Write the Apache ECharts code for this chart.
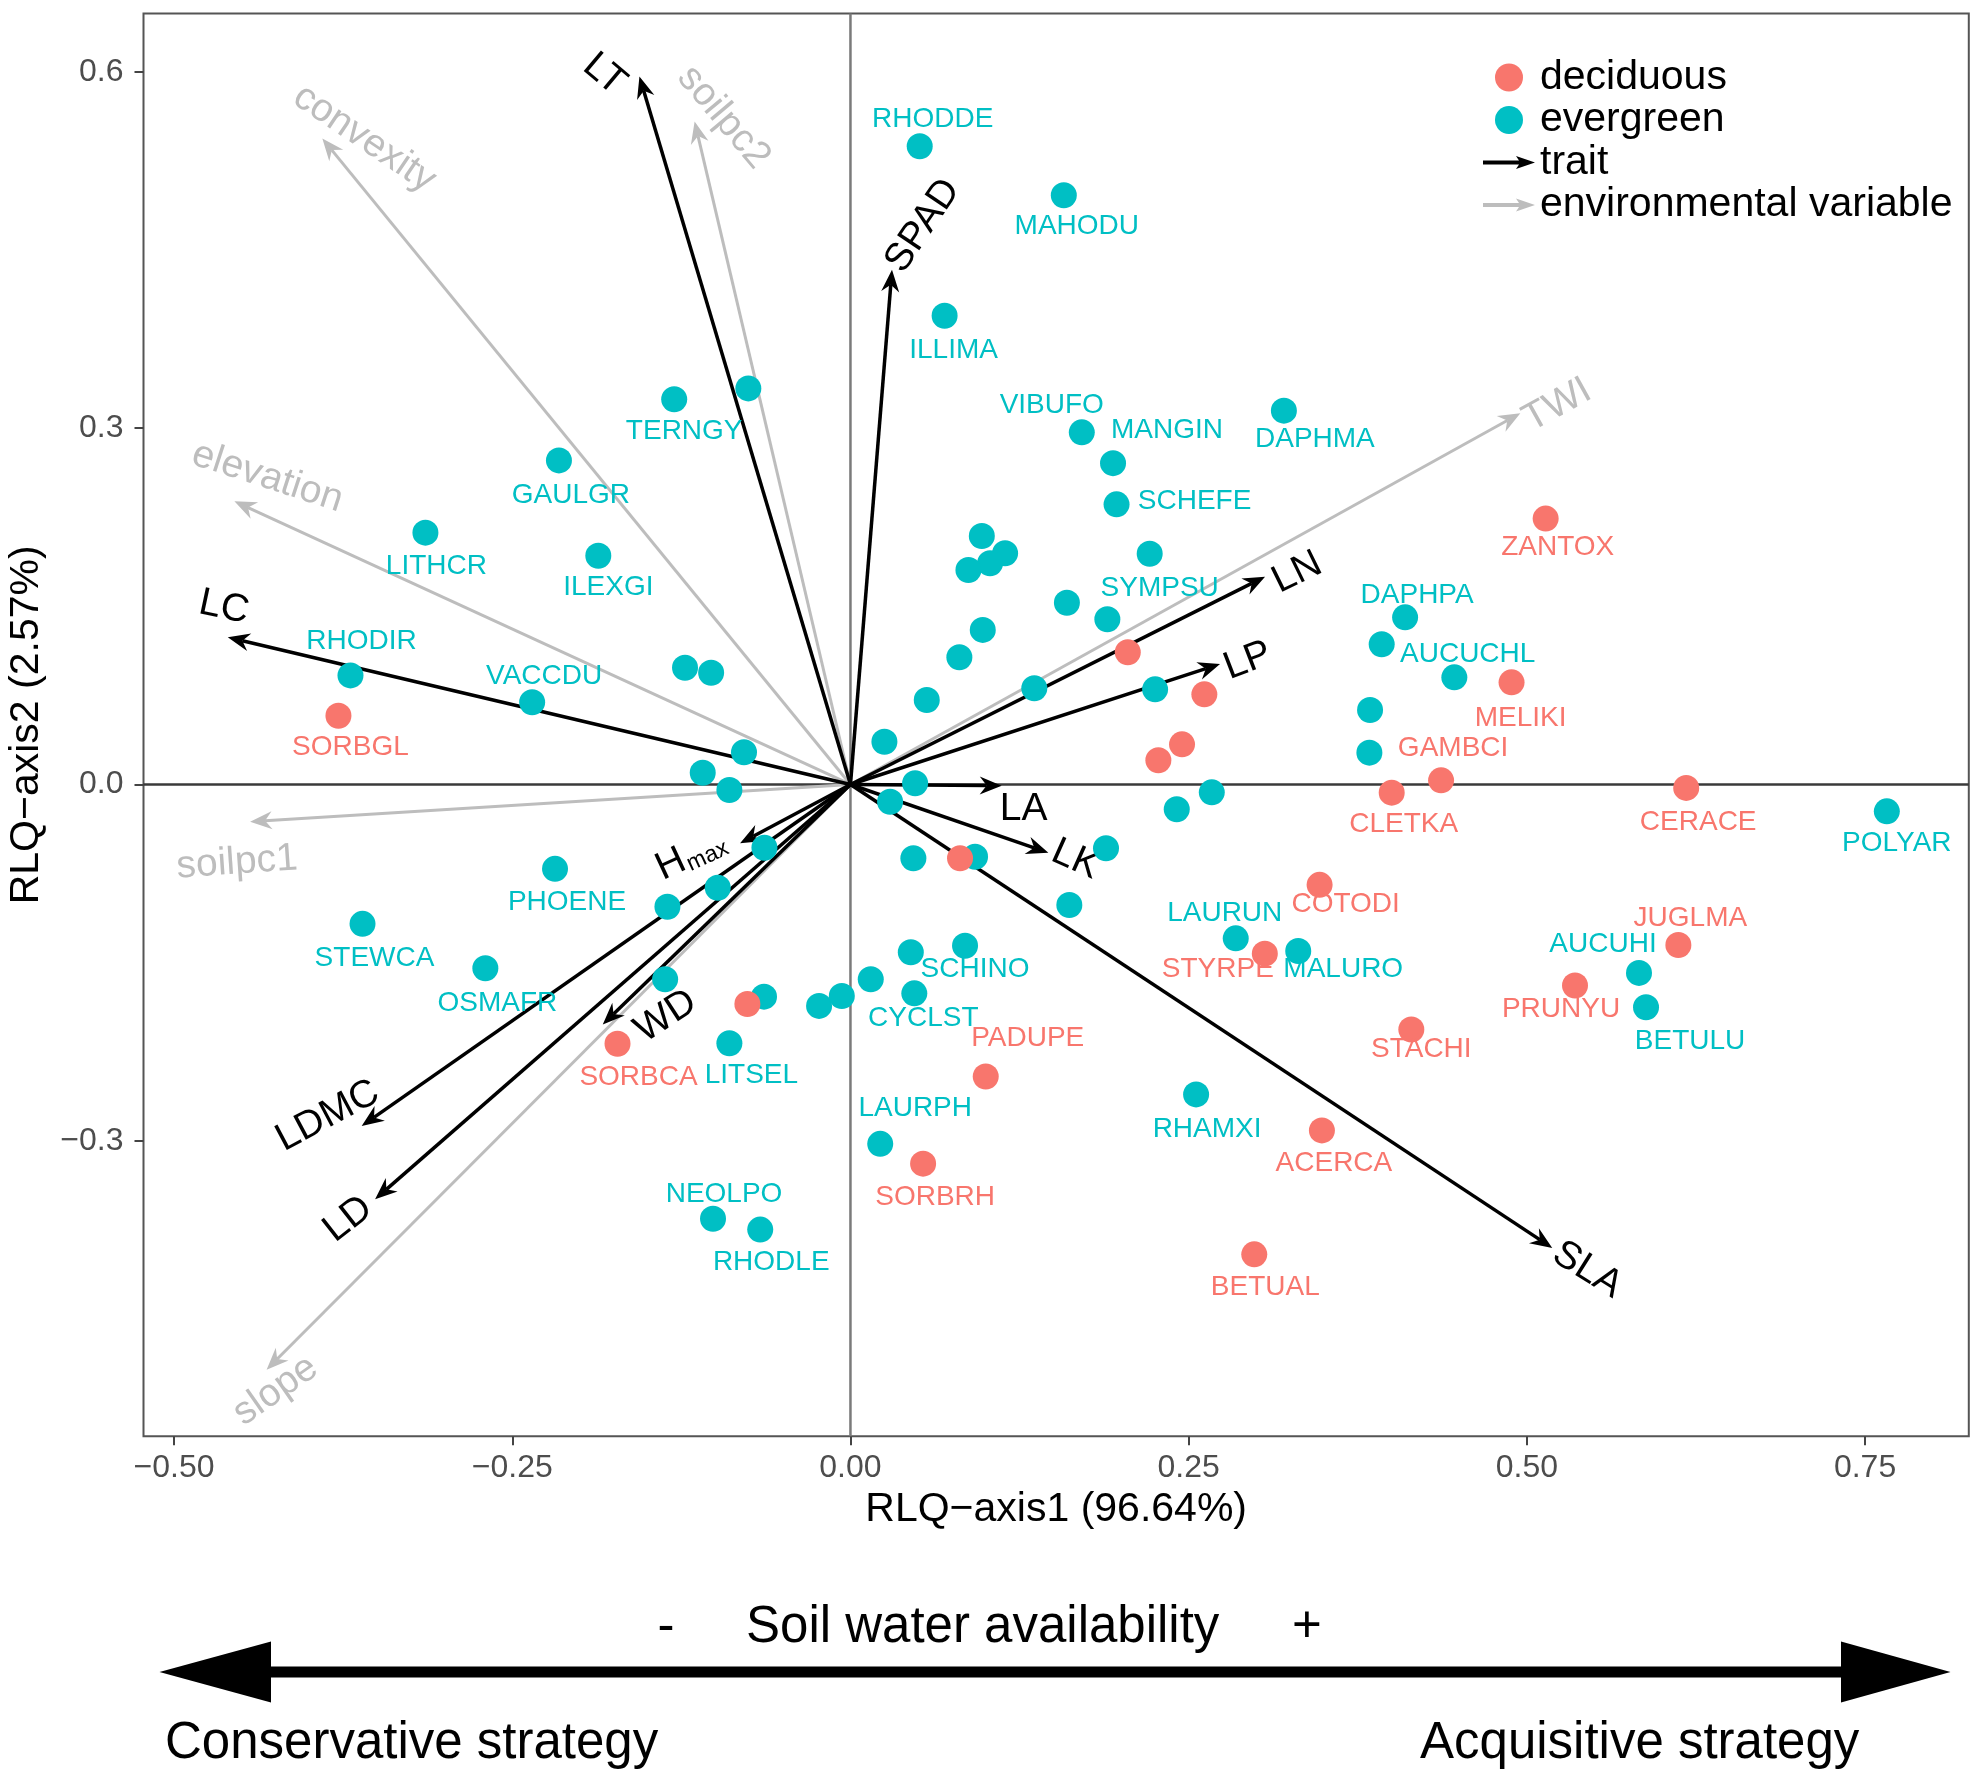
<!DOCTYPE html>
<html>
<head>
<meta charset="utf-8">
<script src="https://cdn.jsdelivr.net/npm/echarts@6/dist/echarts.min.js"></script>
<style>html,body{margin:0;padding:0;background:#fff}#chart{width:1984px;height:1782px}</style>
</head>
<body>
<div id="chart"></div>
<script>
// ---------------- DATA ----------------
const xTickValues = [-0.5, -0.25, 0, 0.25, 0.5, 0.75];
const yTickValues = [-0.3, 0, 0.3, 0.6];

const decidNames = ['SORBGL','ZANTOX','MELIKI','GAMBCI','CLETKA','CERACE','JUGLMA','PRUNYU','STACHI','COTODI','STYRPE','ACERCA','BETUAL','PADUPE','SORBRH','SORBCA','','','','','',''];
const decidX = [-0.3785,0.5139,0.4887,0.4366,0.4001,0.6178,0.6120,0.5356,0.4146,0.3468,0.3063,0.3485,0.2985,0.1000,0.0537,-0.1722,0.2050,0.2616,0.2451,0.2276,0.0810,-0.0762];
const decidY = [0.0579,0.2238,0.0860,0.0035,-0.0069,-0.0029,-0.1351,-0.1692,-0.2062,-0.0845,-0.1424,-0.2912,-0.3955,-0.2458,-0.3192,-0.2182,0.1113,0.0759,0.0338,0.0204,-0.0621,-0.1848];

const everNames = ['RHODDE','MAHODU','ILLIMA','VIBUFO','MANGIN','SCHEFE','DAPHMA','SYMPSU','TERNGY','GAULGR','LITHCR','ILEXGI','RHODIR','VACCDU','PHOENE','STEWCA','OSMAFR','LITSEL','NEOLPO','RHODLE','LAURPH','CYCLST','SCHINO','LAURUN','MALURO','RHAMXI','DAPHPA','AUCUCHL','POLYAR','AUCUHI','BETULU',
  '','','','','','','','','','','','','','','','','','','','','','','','','','','','','','','','','','','','','',''];
const everX = [0.0512,0.1577,0.0696,0.1710,0.1941,0.1967,0.3204,0.2212,-0.1303,-0.2155,-0.3142,-0.1864,-0.3696,-0.2353,-0.2184,-0.3607,-0.2699,-0.0895,-0.1016,-0.0667,0.0220,0.0472,0.0847,0.2848,0.3310,0.2555,0.4100,0.3927,0.7661,0.5829,0.5881,
  -0.0755,0.0971,0.1143,0.1032,0.0872,0.1600,0.1899,0.0978,0.0805,0.0564,0.1359,0.2252,0.0251,0.0478,0.0293,-0.1223,-0.1030,-0.0787,-0.1092,-0.0895,-0.0636,-0.0981,-0.1353,0.0465,0.0921,0.2671,0.2412,0.1889,0.1618,-0.1370,-0.0639,-0.0232,-0.0064,0.0150,0.0446,0.4464,0.3841,0.3836];
const everY = [0.5373,0.4960,0.3946,0.2964,0.2705,0.2358,0.3147,0.1942,0.3243,0.2728,0.2120,0.1926,0.0918,0.0692,-0.0710,-0.1173,-0.1547,-0.2178,-0.3655,-0.3747,-0.3025,-0.1758,-0.1357,-0.1295,-0.1402,-0.2609,0.1407,0.1180,-0.0226,-0.1586,-0.1875,
  0.3334,0.2092,0.1946,0.1862,0.1806,0.1530,0.1391,0.1301,0.1071,0.0711,0.0810,0.0801,0.0360,0.0010,-0.0145,0.0983,0.0941,0.0271,0.0099,-0.0046,-0.0532,-0.0869,-0.1029,-0.0621,-0.0608,-0.0066,-0.0209,-0.0537,-0.1014,-0.1640,-0.1786,-0.1864,-0.1780,-0.1640,-0.1412,0.0902,0.0627,0.0268];

const traitNames = ['LT','SPAD','LC','LN','LP','LA','LK','SLA','Hmax','WD','LDMC','LD'];
const traitX = [-0.1560,0.0307,-0.4603,0.3065,0.2732,0.1118,0.1463,0.5188,-0.0816,-0.1831,-0.3613,-0.3514];
const traitY = [0.5960,0.4333,0.1239,0.1749,0.1014,-0.0010,-0.0574,-0.3901,-0.0495,-0.2020,-0.2875,-0.3491];

const envNames = ['convexity','soilpc2','elevation','soilpc1','slope','TWI'];
const envX = [-0.3904,-0.1152,-0.4554,-0.4438,-0.4316,0.4952];
const envY = [0.5438,0.5581,0.2384,-0.0313,-0.4926,0.3125];

// ---------------- STYLE ----------------
const FONT = '"Liberation Sans", Arial, Helvetica, sans-serif';
const DEC_COLOR = '#F8766D', EVE_COLOR = '#00BFC4', ENV_COLOR = '#BDBDBD';
const X_MIN = -0.5226, X_MAX = 0.8267, Y_MIN = -0.5486, Y_MAX = 0.6490;

// label offsets in pixels (label centre relative to point)
const ptLabelOffset = {
  RHODDE:[13,-27], MAHODU:[13,31], ILLIMA:[9,35], TERNGY:[10,32], GAULGR:[12,35], LITHCR:[11,34], ILEXGI:[10,32],
  RHODIR:[11,-34], VACCDU:[12,-26], SORBGL:[12,32], VIBUFO:[-30,-27], MANGIN:[54,-33], SCHEFE:[78,-3], DAPHMA:[31,29],
  SYMPSU:[10,34], ZANTOX:[12,29], DAPHPA:[12,-22], AUCUCHL:[86,10], MELIKI:[9,36], GAMBCI:[12,-32], CLETKA:[12,32],
  CERACE:[12,34], POLYAR:[10,32], JUGLMA:[12,-27], AUCUHI:[-36,-29], PRUNYU:[-14,24], BETULU:[44,34], STACHI:[10,20],
  COTODI:[26,19], LAURUN:[-11,-25], STYRPE:[-47,16], MALURO:[45,18], RHAMXI:[11,35], ACERCA:[12,33], BETUAL:[11,33],
  PADUPE:[42,-38], SORBRH:[12,34], LAURPH:[35,-36], NEOLPO:[11,-24], RHODLE:[11,33], LITSEL:[22,32], SORBCA:[21,34],
  SCHINO:[10,24], CYCLST:[9,25], PHOENE:[12,33], STEWCA:[12,34], OSMAFR:[12,35]
};
const traitLabelStyle = {
  LT:{dx:-35,dy:-2,rot:-40}, SPAD:{dx:31,dy:-44,rot:56}, LC:{dx:-4,dy:-30,rot:-12}, LN:{dx:32,dy:-4,rot:26},
  LP:{dx:28,dy:-3,rot:21}, LA:{dx:22,dy:24,rot:0}, LK:{dx:27,dy:7,rot:-24}, SLA:{dx:35,dy:22,rot:-32},
  Hmax:{dx:-49,dy:12,rot:25}, WD:{dx:63,dy:-8,rot:33}, LDMC:{dx:-34,dy:-10,rot:28}, LD:{dx:-27,dy:20,rot:38}
};
const envLabelStyle = {
  convexity:{dx:42,dy:0,rot:-34}, soilpc2:{dx:29,dy:-4,rot:-50}, elevation:{dx:33,dy:-24,rot:-18},
  soilpc1:{dx:-13,dy:41,rot:4}, slope:{dx:9,dy:21,rot:35}, TWI:{dx:37,dy:-8,rot:29}
};

function fmtTick(v, d) {
  const s = Math.abs(v).toFixed(d);
  return (v < -1e-9 ? '\u2212' : '') + s;
}

function renderArrow(params, api, names, color, labStyle, withZeroLines, lw) {
  const name = names[params.dataIndex];
  const o = api.coord([0, 0]);
  const t = api.coord([api.value(0), api.value(1)]);
  const dx = t[0] - o[0], dy = t[1] - o[1];
  const len = Math.sqrt(dx * dx + dy * dy);
  const ux = dx / len, uy = dy / len, nx = -uy, ny = ux;
  const HL = 22, HW = 9, NOTCH = 15;
  const bx = t[0] - ux * HL, by = t[1] - uy * HL;
  const children = [];
  if (withZeroLines && params.dataIndex === 0) {
    const h0 = api.coord([X_MIN, 0]), h1 = api.coord([X_MAX, 0]);
    const v0 = api.coord([0, Y_MIN]), v1 = api.coord([0, Y_MAX]);
    children.push({type:'line', shape:{x1:v0[0], y1:v0[1], x2:v1[0], y2:v1[1]}, style:{stroke:'#7a7a7a', lineWidth:2.5}});
    children.push({type:'line', shape:{x1:h0[0], y1:h0[1], x2:h1[0], y2:h1[1]}, style:{stroke:'#3a3a3a', lineWidth:2.5}});
  }
  children.push({type:'line', shape:{x1:o[0], y1:o[1], x2:t[0]-ux*NOTCH, y2:t[1]-uy*NOTCH}, style:{stroke:color, lineWidth:lw}});
  children.push({type:'polygon', shape:{points:[[t[0],t[1]],[bx+nx*HW,by+ny*HW],[t[0]-ux*NOTCH,t[1]-uy*NOTCH],[bx-nx*HW,by-ny*HW]]}, style:{fill:color}});
  const s = labStyle[name];
  const rot = s.rot * Math.PI / 180;
  if (name === 'Hmax') {
    children.push({type:'group', x:t[0]+s.dx, y:t[1]+s.dy, rotation:rot, children:[
      {type:'text', x:-8, y:0, style:{text:'H', font:'39px ' + FONT, fill:color, align:'right', verticalAlign:'middle', textAlign:'right', textVerticalAlign:'middle'}},
      {type:'text', x:-7, y:8, style:{text:'max', font:'23px ' + FONT, fill:color, align:'left', verticalAlign:'middle', textAlign:'left', textVerticalAlign:'middle'}}
    ]});
  } else {
    children.push({type:'text', x:t[0]+s.dx, y:t[1]+s.dy, rotation:rot,
      style:{text:name, font:'39px ' + FONT, fill:color, align:'center', verticalAlign:'middle', textAlign:'center', textVerticalAlign:'middle'}});
  }
  return {type:'group', children};
}

function pointData(names, xs, ys) {
  return names.map((n, i) => ({
    name: n,
    value: [xs[i], ys[i]],
    label: {offset: ptLabelOffset[n] || [0, 0]}
  }));
}

const chart = echarts.init(document.getElementById('chart'), null, {renderer:'canvas'});
const option = {
  animation: false,
  backgroundColor: '#ffffff',
  grid: {left:143.5, top:13.5, width:1825.3, height:1422.7, show:true, borderColor:'#555', borderWidth:2,
         backgroundColor:'transparent', containLabel:false, outerBoundsMode:'none'},
  xAxis: {
    type:'value', min:X_MIN, max:X_MAX, position:'bottom',
    axisLine:{show:false, onZero:false},
    axisTick:{show:true, inside:false, length:9, lineStyle:{color:'#444', width:2}, customValues:xTickValues},
    axisLabel:{show:true, customValues:xTickValues, formatter:(v)=>fmtTick(v,2), fontSize:32, fontFamily:FONT, color:'#4D4D4D', margin:16},
    splitLine:{show:false},
    name:'RLQ\u2212axis1 (96.64%)', nameLocation:'middle', nameGap:53,
    nameTextStyle:{fontSize:41, fontFamily:FONT, color:'#000'}
  },
  yAxis: {
    type:'value', min:Y_MIN, max:Y_MAX, position:'left',
    axisLine:{show:false, onZero:false},
    axisTick:{show:true, inside:false, length:9, lineStyle:{color:'#444', width:2}, customValues:yTickValues},
    axisLabel:{show:true, customValues:yTickValues, formatter:(v)=>fmtTick(v,1), fontSize:32, fontFamily:FONT, color:'#4D4D4D', margin:20},
    splitLine:{show:false},
    name:'RLQ\u2212axis2 (2.57%)', nameLocation:'middle', nameGap:96, nameRotate:90,
    nameTextStyle:{fontSize:41, fontFamily:FONT, color:'#000'}
  },
  legend: {
    orient:'vertical', left:1483, top:57, padding:0, itemWidth:52, itemHeight:28, itemGap:1.5,
    selectedMode:false,
    textStyle:{fontSize:41, fontFamily:FONT, color:'#000', lineHeight:41},
    data:[
      {name:'deciduous', icon:'circle', itemStyle:{color:DEC_COLOR}},
      {name:'evergreen', icon:'circle', itemStyle:{color:EVE_COLOR}},
      {name:'trait', icon:'path://M0,4.5 L36,4.5 L33,0 L52,6.5 L33,13 L36,8.5 L0,8.5 Z', itemStyle:{color:'#000'}},
      {name:'environmental variable', icon:'path://M0,4.5 L36,4.5 L33,0 L52,6.5 L33,13 L36,8.5 L0,8.5 Z', itemStyle:{color:ENV_COLOR}}
    ]
  },
  series: [
    {
      type:'custom', name:'environmental variable', coordinateSystem:'cartesian2d', z:2, silent:true,
      itemStyle:{color:ENV_COLOR},
      data: envNames.map((n,i)=>({name:n, value:[envX[i], envY[i]]})),
      renderItem:(p, api)=>renderArrow(p, api, envNames, ENV_COLOR, envLabelStyle, true, 3)
    },
    {
      type:'custom', name:'trait', coordinateSystem:'cartesian2d', z:3, silent:true,
      itemStyle:{color:'#000'},
      data: traitNames.map((n,i)=>({name:n, value:[traitX[i], traitY[i]]})),
      renderItem:(p, api)=>renderArrow(p, api, traitNames, '#000', traitLabelStyle, false, 3.5)
    },
    {
      type:'scatter', name:'evergreen', z:4, silent:true,
      symbol:'circle', symbolSize:26,
      itemStyle:{color:EVE_COLOR, opacity:1},
      label:{show:true, position:'inside', formatter:(p)=>p.name, color:EVE_COLOR, fontSize:28, fontFamily:FONT},
      data: pointData(everNames, everX, everY)
    },
    {
      type:'scatter', name:'deciduous', z:5, silent:true,
      symbol:'circle', symbolSize:26,
      itemStyle:{color:DEC_COLOR, opacity:1},
      label:{show:true, position:'inside', formatter:(p)=>p.name, color:DEC_COLOR, fontSize:28, fontFamily:FONT},
      data: pointData(decidNames, decidX, decidY)
    }
  ],
  graphic: [
    {type:'rect', shape:{x:265, y:1666.5, width:1582, height:11}, style:{fill:'#000'}},
    {type:'polygon', shape:{points:[[159.5,1672],[271,1641.5],[271,1702.5]]}, style:{fill:'#000'}},
    {type:'polygon', shape:{points:[[1950.5,1672],[1841,1641.5],[1841,1702.5]]}, style:{fill:'#000'}},
    {type:'text', x:666, y:1628, style:{text:'-', font:'51px ' + FONT, fill:'#000', align:'center', verticalAlign:'middle', textAlign:'center', textVerticalAlign:'middle'}},
    {type:'text', x:746, y:1628, style:{text:'Soil water availability', font:'51px ' + FONT, fill:'#000', align:'left', verticalAlign:'middle', textAlign:'left', textVerticalAlign:'middle'}},
    {type:'text', x:1307, y:1628, style:{text:'+', font:'51px ' + FONT, fill:'#000', align:'center', verticalAlign:'middle', textAlign:'center', textVerticalAlign:'middle'}},
    {type:'text', x:165, y:1744, style:{text:'Conservative strategy', font:'51px ' + FONT, fill:'#000', align:'left', verticalAlign:'middle', textAlign:'left', textVerticalAlign:'middle'}},
    {type:'text', x:1420, y:1744, style:{text:'Acquisitive strategy', font:'51px ' + FONT, fill:'#000', align:'left', verticalAlign:'middle', textAlign:'left', textVerticalAlign:'middle'}}
  ]
};
chart.setOption(option);
</script>
</body>
</html>
